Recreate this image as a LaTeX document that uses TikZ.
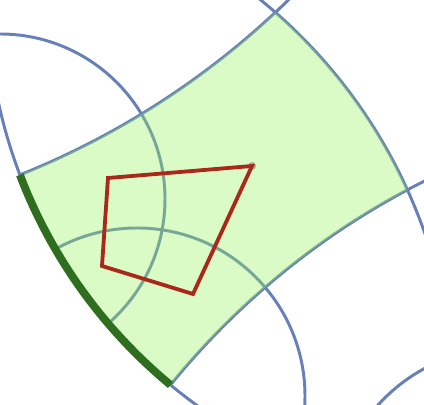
\documentclass[tikz,border=0pt]{standalone}
\usepackage{tikz}
\definecolor{tileblue}{RGB}{104,128,184}
\definecolor{tilegreen}{RGB}{149,241,92}
\definecolor{sidegreen}{RGB}{46,110,30}
\definecolor{quadred}{RGB}{170,40,25}
\definecolor{dotgray}{RGB}{110,160,120}
\tikzstyle{geodesic} = [draw, line width=2.1pt, color=tileblue]
\tikzstyle{tile} = [fill=tilegreen, fill opacity=0.35]
\tikzstyle{side} = [draw, line width=5.6pt, color=sidegreen]
\tikzstyle{quad} = [draw, line width=2.7pt, color=quadred]
\tikzstyle{quaddot} = [fill=dotgray, fill opacity=0.7]
\newcommand{\geocircle}[2]{(c#1) circle[radius=#2]}

\begin{document}
\begin{tikzpicture}[x=0.025cm,y=-0.025cm]
\useasboundingbox (0,0) rectangle (424,405);
\coordinate (cL) at (493,-5);
\coordinate (cR) at (-69,406);
\coordinate (cT) at (-285.5,-588.5);
\coordinate (cB) at (769,871);
\coordinate (cU) at (0,199);
\coordinate (cD) at (137,396);
\coordinate (cE) at (506,520);
\coordinate (q1) at (108,178);
\coordinate (q2) at (252,166);
\coordinate (q3) at (193,294);
\coordinate (q4) at (102,266);

\begin{scope}
\clip (0,0) rectangle (424,405);
% circles of the tiling
\begin{scope}
\clip \geocircle{L}{506};
\path [geodesic] \geocircle{U}{165} \geocircle{D}{168} \geocircle{E}{172};
\path [geodesic] \geocircle{T}{822} \geocircle{R}{523} \geocircle{B}{771};
\end{scope}
\path [geodesic] \geocircle{L}{506};
% the tile
\begin{scope}
\clip \geocircle{L}{506};
\clip \geocircle{R}{523};
\path [tile, even odd rule] (-10,-10) rectangle (434,415) \geocircle{T}{822} \geocircle{B}{771};
\end{scope}
% its left side
\begin{scope}[even odd rule]
\clip (-10,-10) rectangle (434,415) \geocircle{T}{822} \geocircle{B}{771};
\path [side] \geocircle{L}{506};
\end{scope}
\end{scope}

% the quadrilateral
\path [quaddot] (q2) circle[radius=4];
\path [quad] (q1) -- (q2) -- (q3) -- (q4) -- cycle;
\end{tikzpicture}
\end{document}
